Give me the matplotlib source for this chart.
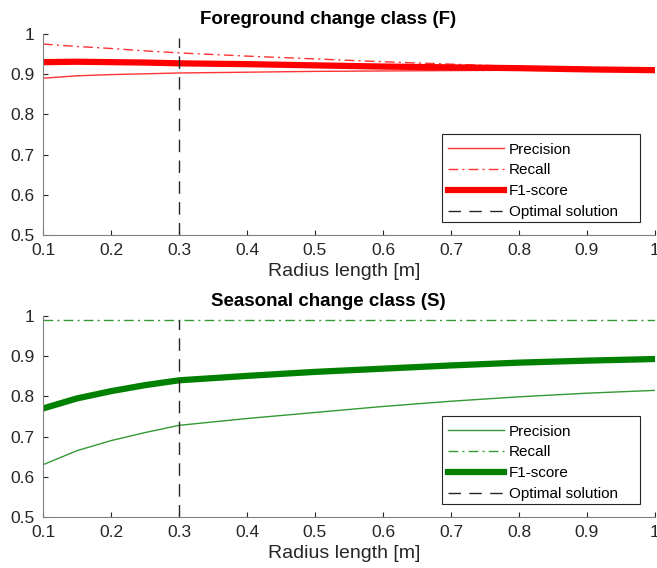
import matplotlib.pyplot as plt
from matplotlib.patches import Rectangle

plt.rcParams['font.family'] = ['Liberation Sans', 'DejaVu Sans']

radius = [0.1, 0.15, 0.2, 0.25, 0.3, 0.4, 0.5, 0.6, 0.7, 0.8, 0.9, 1.0]

fg_precision = [0.890, 0.896, 0.899, 0.901, 0.903, 0.905, 0.907, 0.908, 0.909, 0.910, 0.911, 0.912]
fg_recall = [0.975, 0.969, 0.964, 0.958, 0.953, 0.945, 0.938, 0.931, 0.925, 0.919, 0.914, 0.910]
fg_f1 = [0.930, 0.931, 0.930, 0.929, 0.927, 0.925, 0.922, 0.919, 0.917, 0.915, 0.912, 0.910]

ss_precision = [0.630, 0.665, 0.690, 0.710, 0.728, 0.745, 0.760, 0.775, 0.788, 0.799, 0.808, 0.815]
ss_recall = [0.990, 0.990, 0.990, 0.990, 0.990, 0.990, 0.990, 0.990, 0.990, 0.990, 0.990, 0.990]
ss_f1 = [0.770, 0.795, 0.813, 0.828, 0.840, 0.851, 0.861, 0.869, 0.877, 0.884, 0.889, 0.893]

optimal_radius = 0.3
optimal_span = [0.5, 0.99]

xticks = [0.1, 0.2, 0.3, 0.4, 0.5, 0.6, 0.7, 0.8, 0.9, 1.0]
xticklabels = ['0.1', '0.2', '0.3', '0.4', '0.5', '0.6', '0.7', '0.8', '0.9', '1']
yticks = [0.5, 0.6, 0.7, 0.8, 0.9, 1.0]
yticklabels = ['0.5', '0.6', '0.7', '0.8', '0.9', '1']

fig = plt.figure(figsize=(6.57, 5.68), dpi=100)
ax1 = fig.add_axes([43 / 657, 1 - 235 / 568, 612 / 657, 201 / 568])
ax2 = fig.add_axes([43 / 657, 1 - 517 / 568, 612 / 657, 201 / 568])

axc = '#262626'


def draw(ax, prec, rec, f1, color, title):
    ax.plot(radius, prec, color=color, lw=1.0, label='Precision', alpha=0.8)
    ax.plot(radius, rec, color=color, lw=1.0, ls=(0, (7, 3, 1.5, 3)), label='Recall', alpha=0.8)
    ax.plot(radius, f1, color=color, lw=4.5, label='F1-score')
    ax.plot([optimal_radius, optimal_radius], optimal_span, color=axc, lw=1.0,
            ls=(0, (9, 6)), label='Optimal solution')
    ax.set_xlim(0.1, 1.0)
    ax.set_ylim(0.5, 1.0)
    ax.set_xticks(xticks)
    ax.set_xticklabels(xticklabels)
    ax.set_yticks(yticks)
    ax.set_yticklabels(yticklabels)
    for s in ['top', 'right']:
        ax.spines[s].set_visible(False)
    for s in ['left', 'bottom']:
        ax.spines[s].set_color('#808080')
        ax.spines[s].set_linewidth(0.8)
    ax.tick_params(direction='in', length=3.5, width=0.8, color=axc, labelcolor=axc,
                   labelsize=12.5, pad=6)
    ax.set_xlabel('Radius length [m]', fontsize=14, color=axc, labelpad=3, x=0.492)
    ax.set_title(title, fontsize=13.5, fontweight='bold', pad=7, x=0.466)
    # MATLAB-like legend: box drawn separately so it can leave room on the right
    ax.legend(loc='upper left', bbox_to_anchor=(0.6618, 0.46), fontsize=11,
              frameon=False, handlelength=3.65, handletextpad=0.33,
              labelspacing=0.45, borderpad=0, borderaxespad=0)
    ax.add_patch(Rectangle((0.652, 0.065), 0.3235, 0.4375, transform=ax.transAxes,
                           facecolor='white', edgecolor=axc, lw=0.8, zorder=4.5))


draw(ax1, fg_precision, fg_recall, fg_f1, '#ff0000', 'Foreground change class (F)')
draw(ax2, ss_precision, ss_recall, ss_f1, '#008000', 'Seasonal change class (S)')

fig.savefig('out.png', dpi=100)
